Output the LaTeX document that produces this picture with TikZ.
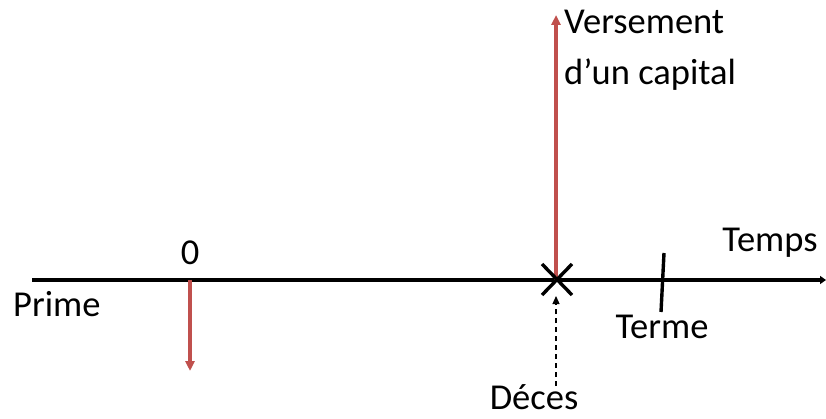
\documentclass[tikz,border=0pt]{standalone}
\usepackage{fontspec}
\setmainfont{Carlito}
\usetikzlibrary{arrows.meta}
\definecolor{arrowred}{HTML}{C0504D}
\begin{document}
\begin{tikzpicture}[x=1pt,y=-1pt,
  lbl/.style={font=\fontsize{36.5}{44}\selectfont, inner sep=0pt},
  axis/.style={line width=3.2pt, -{Triangle[length=6pt,width=8pt]}},
  flow/.style={line width=3.2pt, draw=arrowred, -{Triangle[length=10pt,width=9pt,fill=arrowred]}},
  mark line/.style={line width=3.4pt}]
\useasboundingbox (0,0) rectangle (826,419);
\coordinate (a0) at (32,280);
\coordinate (a1) at (826,280);
\coordinate (p0) at (190,280);
\coordinate (p1) at (190,371);
\coordinate (d) at (556,280);
\coordinate (v1) at (556,15);
\coordinate (t0) at (664,253);
\coordinate (t1) at (661,312);
\coordinate (ds0) at (556,386);
\coordinate (ds1) at (556,296);
\draw[axis] (a0) -- (a1);
\draw[flow] (p0) -- (p1);
\draw[flow] (d) -- (v1);
\draw[mark line] (542,264) -- (572,295);
\draw[mark line] (572,264) -- (542,295);
\draw[mark line] (t0) -- (t1);
\draw[line width=1.2pt, dashed, dash pattern=on 5pt off 4pt, -{Triangle[length=8pt,width=7pt]}] (ds0) -- (ds1);
\node[lbl] (zero) at (190,253) {0};
\node[lbl, anchor=west] (prime) at (13,304) {Prime};
\node[lbl, anchor=west] (vers) at (564,22) {Versement};
\node[lbl, anchor=west] (cap) at (564,75) {d’un capital};
\node[lbl] (terme) at (662,327) {Terme};
\node[lbl] (temps) at (770,243) {Temps};
\node[lbl] (deces) at (534,397) {Déces};
\end{tikzpicture}
\end{document}
